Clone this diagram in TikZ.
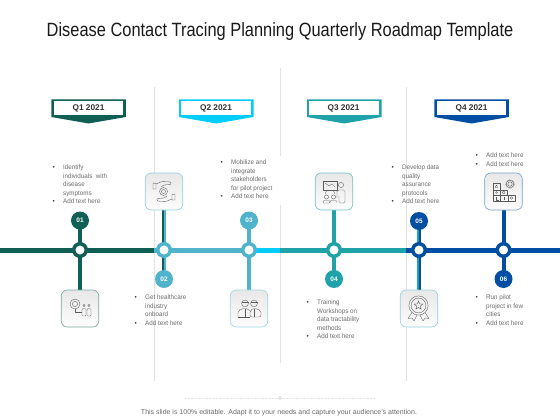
\documentclass[tikz,border=0pt]{standalone}
\usepackage{fontspec}
\setmainfont{Liberation Sans}
\newfontfamily\titlefont[FakeStretch=0.855]{Liberation Sans}
\newfontfamily\bodyfont[FakeStretch=0.95]{Liberation Sans}
\usetikzlibrary{backgrounds,shapes.geometric}
\definecolor{cGreen}{HTML}{0F5F55}
\definecolor{cLight}{HTML}{4FB3CC}
\definecolor{cCyan}{HTML}{00CCFF}
\definecolor{cTeal}{HTML}{1FA3A8}
\definecolor{cNavy}{HTML}{024EA2}
\definecolor{cText}{HTML}{6A6A6A}
\definecolor{cDiv}{HTML}{E2E2E2}
\definecolor{cIcon}{HTML}{5A5A5A}
\newcommand{\bul}[1]{\makebox[10.5pt][l]{\textcolor{black!75}{•}}#1\\}
\newcommand{\cont}[1]{\hspace*{10.5pt}#1\\}
\newcommand{\lastbul}[1]{\makebox[10.5pt][l]{\textcolor{black!75}{•}}#1}
\tikzset{
  hub/.style={circle,draw=#1,line width=3.5pt,fill=white,minimum size=12.5pt,inner sep=0pt},
  badge/.style={circle,fill=#1,minimum size=18pt,inner sep=0pt,text=white,font=\bfseries\fontsize{6.5}{7}\selectfont},
  iconbox/.style={rectangle,rounded corners=6pt,draw=#1,line width=0.6pt,minimum width=37.5pt,minimum height=37pt,inner sep=0pt,top color=black!9,bottom color=black!1},
  body/.style={anchor=north west,inner sep=0pt,align=left,text=cText,font=\bodyfont\fontsize{6.6}{8.35}\selectfont},
  qtext/.style={inner sep=0pt,font=\bfseries\fontsize{8.3}{9}\selectfont,text=black!80},
  main/.style={line width=5pt},
  stem/.style={line width=2pt},
  divider/.style={draw=cDiv,line width=0.7pt},
  ico/.style={draw=cIcon,line width=0.35pt,line join=round}
}
\newcommand{\quarter}[3]{% left x, colour, name
  \fill[#2] (#1,99.5) -- ++(74.5,0) -- ++(0,17.5) -- ++(-37.25,6.5) -- ++(-37.25,-6.5) -- cycle;
  \fill[white] (#1+2.4,101.2) rectangle (#1+72.1,115.2);
}
\begin{document}
\begin{tikzpicture}[x=1pt,y=-1pt]
\useasboundingbox (0,0) rectangle (560,420);

\node[inner sep=0pt,font=\titlefont\fontsize{19.2}{22}\selectfont,text=black!90] (title) at (280,31.5) {Disease Contact Tracing Planning Quarterly Roadmap Template};

% quarter flags
\quarter{51.3}{cGreen}{q1}
\quarter{179}{cCyan}{q2}
\quarter{307}{cTeal}{q3}
\quarter{434.3}{cNavy}{q4}
\node[qtext] (q1) at (88.5,108.3) {Q1 2021};
\node[qtext] (q2) at (216,108.3) {Q2 2021};
\node[qtext] (q3) at (343.5,108.3) {Q3 2021};
\node[qtext] (q4) at (471.5,108.3) {Q4 2021};

% hubs
\node[hub=cGreen] (h1) at (80,250) {};
\node[hub=cLight] (h2) at (164,250) {};
\node[hub=cLight] (h3) at (249,250) {};
\node[hub=cTeal] (h4) at (334,250) {};
\node[hub=cNavy] (h5) at (419,250) {};
\node[hub=cNavy] (h6) at (503.5,250) {};

% badges
\node[badge=cGreen] (b1) at (80,220.5) {01};
\node[badge=cLight] (b2) at (164,279) {02};
\node[badge=cLight] (b3) at (249,220.5) {03};
\node[badge=cTeal] (b4) at (334,279) {04};
\node[badge=cNavy] (b5) at (419,221) {05};
\node[badge=cNavy] (b6) at (503.5,279) {06};

% icon boxes
\node[iconbox=cGreen!55] (i1) at (80,308.5) {};
\node[iconbox=cLight!65] (i2) at (164,191.5) {};
\node[iconbox=cLight!55] (i3) at (249,308.5) {};
\node[iconbox=cTeal!65] (i4) at (334,191.5) {};
\node[iconbox=cLight!60] (i5) at (419,308.5) {};
\node[iconbox=cNavy!55] (i6) at (503.5,191.5) {};

% line and stems
\begin{scope}[on background layer]
\coordinate (d1t) at (154,87); \coordinate (d1b) at (154,381);
\coordinate (d2t) at (280,68); \coordinate (d2m) at (280,156); \coordinate (d2n) at (280,205); \coordinate (d2b) at (280,363);
\coordinate (d3t) at (406,87); \coordinate (d3b) at (406,381);
\draw[divider] (d1t) -- (d1b);
\draw[divider] (d2t) -- (d2m);
\draw[divider] (d2n) -- (d2b);
\draw[divider] (d3t) -- (d3b);
\coordinate (L0) at (0,250); \coordinate (L1) at (154,250); \coordinate (L3) at (280,250);
\coordinate (L4) at (406,250); \coordinate (L5) at (560,250);
\draw[main,cGreen] (L0) -- (L1);
\draw[main,cLight] (L1) -- (h3.center);
\draw[main,cCyan] (h3.center) -- (L3);
\draw[main,cTeal] (L3) -- (L4);
\draw[main,cNavy] (L4) -- (L5);
\draw[line width=4pt,cGreen] (h1.center) -- (b1.center);
\draw[line width=4pt,cGreen] (h1.center) -- (i1.north);
\draw[stem,cGreen] ([xshift=-1pt]h2.center) -- ([xshift=-1pt]i2.south);
\draw[stem,cLight] ([xshift=1pt]h2.center) -- ([xshift=1pt]i2.south);
\draw[stem,cGreen] ([xshift=-1pt]h2.center) -- ([xshift=-1pt]b2.center);
\draw[stem,cLight] ([xshift=1pt]h2.center) -- ([xshift=1pt]b2.center);
\draw[line width=4pt,cLight] (h3.center) -- (b3.center);
\draw[line width=4pt,cLight] (h3.center) -- (i3.north);
\draw[line width=4pt,cTeal] (h4.center) -- (i4.south);
\draw[line width=4pt,cTeal] (h4.center) -- (b4.center);
\draw[stem,cTeal] ([xshift=-1pt]h5.center) -- ([xshift=-1pt]b5.center);
\draw[stem,cNavy] ([xshift=1pt]h5.center) -- ([xshift=1pt]b5.center);
\draw[stem,cTeal] ([xshift=-1pt]h5.center) -- ([xshift=-1pt]i5.north);
\draw[stem,cNavy] ([xshift=1pt]h5.center) -- ([xshift=1pt]i5.north);
\draw[line width=4pt,cNavy] (h6.center) -- (i6.south);
\draw[line width=4pt,cNavy] (h6.center) -- (b6.center);
\end{scope}

% texts
\node[body] (t1) at (52.5,165) {\bul{Identify}\cont{individuals\ \ with}\cont{disease}\cont{symptoms}\lastbul{Add text here}};
\node[body] (t2) at (134.5,295) {\bul{Get healthcare}\cont{industry}\cont{onboard}\lastbul{Add text here}};
\node[body] (t3) at (220.5,160) {\bul{Mobilize and}\cont{integrate}\cont{stakeholders}\cont{for pilot project}\lastbul{Add text here}};
\node[body] (t4) at (306.5,300) {\bul{Training}\cont{Workshops on}\cont{data tractability}\cont{methods}\lastbul{Add text here}};
\node[body] (t5) at (391.5,165) {\bul{Develop data}\cont{quality}\cont{assurance}\cont{protocols}\lastbul{Add text here}};
\node[body] (t6) at (475.5,153) {\bul{Add text here}\lastbul{Add text here}};
\node[body] (t7) at (475.5,295) {\bul{Run pilot}\cont{project in few}\cont{cities}\lastbul{Add text here}};

% icon 1: virus and people
\draw[ico] (75,304) circle (5pt) (75,304) circle (2.6pt);
\draw[ico] (75,309) -- (75,312) -- (82,312);
\draw[ico] (84,305.5) circle (1.2pt) (89,305.5) circle (1.2pt);
\draw[ico,rounded corners=1pt] (82,316) -- (82,308.5) -- (86,308.5) -- (86,316) -- cycle;
\draw[ico,rounded corners=1pt] (87,316) -- (87,308.5) -- (91,308.5) -- (91,316) -- cycle;
% icon 2: hands and virus
\draw[ico] (163.5,191.5) circle (4pt) (163.5,191.5) circle (2pt);
\draw[ico] (153,183) -- (153,189) -- (156,189) -- (156,183.5) -- cycle;
\draw[ico,rounded corners=1pt] (156,184) -- (162,181.5) -- (171,182) -- (171,184.5) -- (164,185) -- (161,187);
\draw[ico] (175,194) -- (175,200) -- (172,200) -- (172,194.5) -- cycle;
\draw[ico,rounded corners=1pt] (172,199) -- (166,201.5) -- (157,201) -- (157,198.5) -- (164,198) -- (167,196);
% icon 3: two workers
\draw[ico] (245,303.5) circle (3.4pt) (254,303.5) circle (3.4pt);
\draw[ico] (241.5,302) -- (248.5,302) (250.5,302) -- (257.5,302);
\draw[ico,rounded corners=2pt] (238,317) -- (238,310.5) -- (245,308) -- (250,310.5) (250,317) -- (250,310.5) -- (254,308) -- (261,310.5) -- (261,317) -- cycle;
\draw[ico] (238,317) -- (250,317) (245,309) -- (245,317) (254,309) -- (254,317);
% icon 4: trainer and board
\draw[ico] (323,181) rectangle (337,190);
\draw[ico] (325,183) -- (329,186) -- (332,184) -- (335,187);
\draw[ico] (327,190) -- (325,194) (333,190) -- (335,194);
\draw[ico] (341,185) circle (2.6pt);
\draw[ico,rounded corners=1.5pt] (337,198) -- (337,190) -- (345,190) -- (345,203) -- (339,203) -- (339,196);
\draw[ico] (326.5,197) circle (2.1pt) (333.5,197) circle (2.1pt);
\draw[ico,rounded corners=1pt] (323,203) -- (323,200.5) -- (330,200.5) -- (330,203) -- cycle;
\draw[ico,rounded corners=1pt] (330,203) -- (330,200.5) -- (337,200.5) -- (337,203);
% icon 5: medal
\draw[ico] (418.5,305.5) circle (9.6pt) (418.5,305.5) circle (7.4pt);
\node[star,star points=5,star point ratio=2.3,draw=cIcon,line width=0.4pt,minimum size=9pt,inner sep=0pt] (medalstar) at (418.5,305.5) {};
\draw[ico] (412,312.5) -- (408,318.5) -- (412,318) -- (414,321) -- (417,315);
\draw[ico] (425,312.5) -- (429,318.5) -- (425,318) -- (423,321) -- (420,315);
% icon 6: blocks and gear
\draw[ico] (493,183) rectangle (500,190);
\draw[ico] (493,190) rectangle (500,195.5) (500,190) rectangle (507,195.5);
\draw[ico] (493,195.5) rectangle (500.5,201.5) (500.5,195.5) rectangle (508,201.5) (508,195.5) rectangle (515.5,201.5);
\draw[ico] (510,184) circle (3.8pt) (510,184) circle (2.2pt);
\draw[ico,densely dotted,line width=0.8pt] (510,184) circle (4.3pt);
\draw[ico] (496.5,185) -- (497.5,187.5) -- (495,187.5) -- cycle;
\draw[ico] (503.5,192.5) circle (1.5pt) (496.5,192.5) circle (1pt);
\draw[ico] (496.5,197) -- (496.5,200) -- (498.5,200);
\draw[ico] (504,197) -- (504,200);
\draw[ico] (511.5,198) circle (1.3pt);

% footer
\coordinate (fl) at (185,398); \coordinate (fr) at (375,398);
\draw[black!10,line width=0.4pt,densely dotted] (fl) -- (fr);
\fill[black!10] (280,398) circle (2pt);
\node[inner sep=0pt,text=cText,font=\fontsize{7}{8}\selectfont] (foot) at (279,413) {This slide is 100\% editable. Adapt it to your needs and capture your audience's attention.};
\end{tikzpicture}
\end{document}
